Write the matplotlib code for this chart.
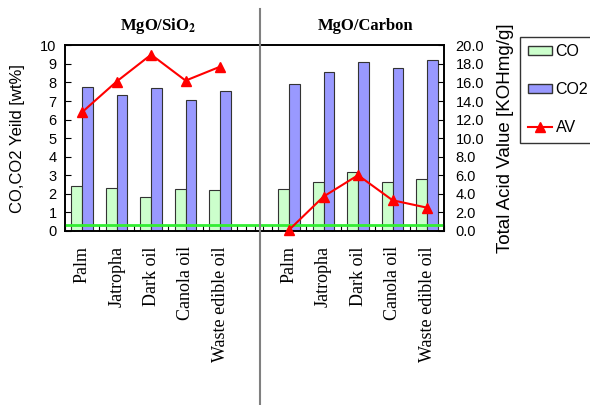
# CO / CO2 yield and total acid value for each oil over the two catalysts
import numpy as np
import matplotlib
matplotlib.use('Agg')
import matplotlib.pyplot as plt
from matplotlib.lines import Line2D
from matplotlib.patches import Patch

plt.rcParams['font.family'] = 'Liberation Sans'
plt.rcParams['mathtext.fontset'] = 'stix'

oils = ['Palm', 'Jatropha', 'Dark oil', 'Canola oil', 'Waste edible oil']

# MgO/SiO2 catalyst
co_sio2 = [2.41, 2.30, 1.82, 2.25, 2.19]
co2_sio2 = [7.75, 7.32, 7.70, 7.07, 7.54]
av_sio2 = [12.8, 16.1, 19.0, 16.2, 17.7]

# MgO/Carbon catalyst
co_carbon = [2.25, 2.61, 3.15, 2.61, 2.77]
co2_carbon = [7.90, 8.54, 9.12, 8.78, 9.21]
av_carbon = [0.1, 3.7, 6.0, 3.3, 2.5]

baseline = 0.33  # green reference line, wt%

fig = plt.figure(figsize=(5.9, 4.05), dpi=100)
ax = fig.add_axes([0.110, 0.430, 0.643, 0.458])
ax2 = ax.twinx()

x_sio2 = np.arange(5)
x_carbon = np.arange(6, 11)
w = 0.31

for xs, co, co2 in [(x_sio2, co_sio2, co2_sio2), (x_carbon, co_carbon, co2_carbon)]:
    ax.bar(xs - w / 2, co, w, color='#ccffcc', edgecolor='#333333', linewidth=0.8, zorder=2)
    ax.bar(xs + w / 2, co2, w, color='#9999ff', edgecolor='#333333', linewidth=0.8, zorder=2)

ax.axhline(baseline, color='#33ee33', linewidth=2, zorder=3)

for xs, av in [(x_sio2, av_sio2), (x_carbon, av_carbon)]:
    ax2.plot(xs, av, color='red', marker='^', markersize=7, linewidth=1.5, clip_on=False, zorder=4)

ax.set_xlim(-0.5, 10.5)
ax.set_ylim(0, 10)
ax2.set_ylim(0, 20)
ax.set_yticks(range(0, 11))
ax2.set_yticks(range(0, 21, 2))
ax2.set_yticklabels([f'{v:.1f}' for v in range(0, 21, 2)])

ax.set_xticks(list(x_sio2) + list(x_carbon))
ax.set_xticklabels(oils + oils, rotation=90, family='Liberation Serif', fontsize=13)
ax.set_xticks(np.arange(-0.5, 10.51, 0.25), minor=True)
ax.tick_params(axis='x', which='major', length=0, pad=11)
ax.tick_params(axis='x', which='minor', direction='in', length=4, width=0.8)
ax.tick_params(axis='y', direction='in', length=4, labelsize=10.5, pad=6)
ax2.tick_params(axis='y', direction='in', length=4, labelsize=10.5, pad=8)

for a in (ax, ax2):
    for s in a.spines.values():
        s.set_linewidth(1.2)

ax.set_ylabel('CO,CO2 Yeild [wt%]', fontsize=12, labelpad=11)
ax2.set_ylabel('Total Acid Value [KOHmg/g]', fontsize=13.5, labelpad=9)

fig.text(0.268, 0.935, r'MgO/SiO$_\mathbf{2}$', family='Liberation Serif', weight='bold',
         fontsize=12, ha='center', va='center')
fig.text(0.620, 0.935, 'MgO/Carbon', family='Liberation Serif', weight='bold',
         fontsize=12, ha='center', va='center')

# divider between the two catalyst groups
fig.add_artist(Line2D([0.441, 0.441], [0.0, 0.978], transform=fig.transFigure,
                      color='#808080', linewidth=1.5))

handles = [Patch(facecolor='#ccffcc', edgecolor='#333333'),
           Patch(facecolor='#9999ff', edgecolor='#333333'),
           Line2D([], [], color='red', marker='^', markersize=7, linewidth=1.5)]
leg = fig.legend(handles, ['CO', 'CO2', 'AV'], loc='upper left',
                 bbox_to_anchor=(0.882, 0.909), fontsize=11.5, frameon=True,
                 fancybox=False, edgecolor='black', labelspacing=1.45,
                 handlelength=1.55, handleheight=0.5, handletextpad=0.2,
                 borderpad=0.45, borderaxespad=0)
leg.get_frame().set_linewidth(1.0)

fig.savefig('out.png', dpi=100)
